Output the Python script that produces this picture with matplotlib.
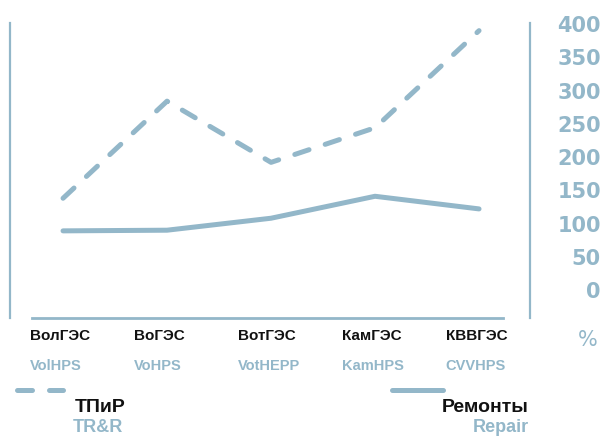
import matplotlib.pyplot as plt
from matplotlib.transforms import blended_transform_factory

# data
stations_ru = ['ВолГЭС', 'ВоГЭС', 'ВотГЭС', 'КамГЭС', 'КВВГЭС']
stations_en = ['VolHPS', 'VoHPS', 'VotHEPP', 'KamHPS', 'CVVHPS']
tpir = [138, 284, 192, 244, 390]
repairs = [89, 90, 108, 141, 122]
y_ticks = [0, 50, 100, 150, 200, 250, 300, 350, 400]

BLUE = '#93b7c9'
W, H = 603, 437

fig = plt.figure(figsize=(W / 100, H / 100), dpi=100)
ax = fig.add_axes([10 / W, (H - 318) / H, 520 / W, 295 / H])

x = list(range(len(stations_ru)))
ax.plot(x, tpir, color=BLUE, lw=3.6, dashes=(3.0, 3.4),
        dash_capstyle='round', solid_capstyle='round')
ax.plot(x, repairs, color=BLUE, lw=3.6, solid_capstyle='round')

ax.set_xlim(-0.51, 4.49)
ax.set_ylim(-42, 401.5)

for s in ['top', 'bottom']:
    ax.spines[s].set_visible(False)
for s in ['left', 'right']:
    ax.spines[s].set_color(BLUE)
    ax.spines[s].set_linewidth(1.6)
ax.axhline(-42, xmin=22 / 520, xmax=493 / 520, color=BLUE, lw=2, clip_on=False)

ax.set_xticks([])
ax.yaxis.tick_right()
ax.set_yticks(y_ticks)
ax.set_yticklabels([str(v) for v in y_ticks])
ax.tick_params(axis='y', length=0, pad=51)
for lbl in ax.get_yticklabels():
    lbl.set_horizontalalignment('right')
    lbl.set_color(BLUE)
    lbl.set_fontweight('bold')
    lbl.set_fontsize(15)

fig.text(598 / W, 1 - 340 / H, '%', color=BLUE, fontsize=15,
         ha='right', va='center')

# category labels: x in data units, y in figure fraction
trans = blended_transform_factory(ax.transData, fig.transFigure)
for i, (ru, en) in enumerate(zip(stations_ru, stations_en)):
    ax.text(i - 0.32, 1 - 336 / H, ru, transform=trans, fontsize=11,
            fontweight='bold', color='#111111', ha='left', va='center',
            family='Liberation Sans')
    ax.text(i - 0.32, 1 - 366 / H, en, transform=trans, fontsize=10.5,
            fontweight='bold', color=BLUE, ha='left', va='center',
            family='Liberation Sans')

# legend
fig.lines.append(plt.Line2D([17 / W, 63 / W], [1 - 390 / H] * 2, transform=fig.transFigure,
                            color=BLUE, lw=3.6, dashes=(3.0, 3.4), dash_capstyle='round'))
fig.lines.append(plt.Line2D([392 / W, 443 / W], [1 - 390 / H] * 2, transform=fig.transFigure,
                            color=BLUE, lw=3.6, solid_capstyle='round'))
fig.text(75 / W, 1 - 408 / H, 'ТПиР', fontsize=14, fontweight='bold', color='#111111',
         ha='left', va='center', family='Liberation Sans')
fig.text(73 / W, 1 - 427 / H, 'TR&R', fontsize=13, fontweight='bold', color=BLUE,
         ha='left', va='center', family='Liberation Sans')
fig.text(529 / W, 1 - 408 / H, 'Ремонты', fontsize=14, fontweight='bold', color='#111111',
         ha='right', va='center', family='Liberation Sans')
fig.text(529 / W, 1 - 427 / H, 'Repair', fontsize=13, fontweight='bold', color=BLUE,
         ha='right', va='center', family='Liberation Sans')

fig.savefig('out.png', dpi=100)
